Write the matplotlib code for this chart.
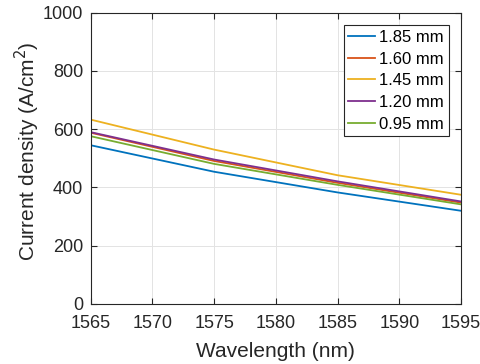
import matplotlib
matplotlib.use("Agg")
import matplotlib.pyplot as plt

plt.rcParams['font.family'] = ['Liberation Sans', 'DejaVu Sans']

wavelength = [1565, 1575, 1585, 1595]
lengths = ['1.85 mm', '1.60 mm', '1.45 mm', '1.20 mm', '0.95 mm']
j_185 = [545, 454, 383, 320]
j_160 = [588, 491, 416, 348]
j_145 = [633, 530, 442, 375]
j_120 = [590, 496, 421, 352]
j_095 = [576, 481, 409, 342]
series = [j_185, j_160, j_145, j_120, j_095]
colors = ['#0072BD', '#D95319', '#EDB120', '#7E2F8E', '#77AC30']

fig = plt.figure(figsize=(4.81, 3.64), dpi=100)
ax = fig.add_axes([90.7 / 481, 1 - 304 / 364, (461 - 90.7) / 481, (304 - 12.7) / 364])

for vals, lab, c in zip(series, lengths, colors):
    ax.plot(wavelength, vals, color=c, lw=1.3, label=lab)

ax.set_xlim(1565, 1595)
ax.set_ylim(0, 1000)
ax.set_xticks(range(1565, 1596, 5))
ax.set_yticks(range(0, 1001, 200))
ax.grid(True, color='#e3e3e3', lw=0.7)
ax.set_axisbelow(True)
ax.tick_params(direction='in', length=4, labelsize=13, colors='#262626', top=True, right=True,
               labeltop=False, labelright=False)
ax.tick_params(axis='x', pad=8)
ax.tick_params(axis='y', pad=5.3)
for s in ax.spines.values():
    s.set_color('#262626')
    s.set_linewidth(0.8)
ax.set_xlabel('Wavelength (nm)', fontsize=15, color='#262626', labelpad=7)
ax.set_ylabel('Current density (A/cm$^2$)', fontsize=15, color='#262626', labelpad=1)
ax.yaxis.label.set_y(0.525)

leg = ax.legend(loc='upper right', fontsize=12, fancybox=False, framealpha=1,
                edgecolor='#262626', handlelength=1.6, borderaxespad=0.75,
                labelspacing=0.4, handletextpad=0.25, borderpad=0.28)
leg.get_frame().set_linewidth(0.8)

fig.savefig('out.png', dpi=100)
